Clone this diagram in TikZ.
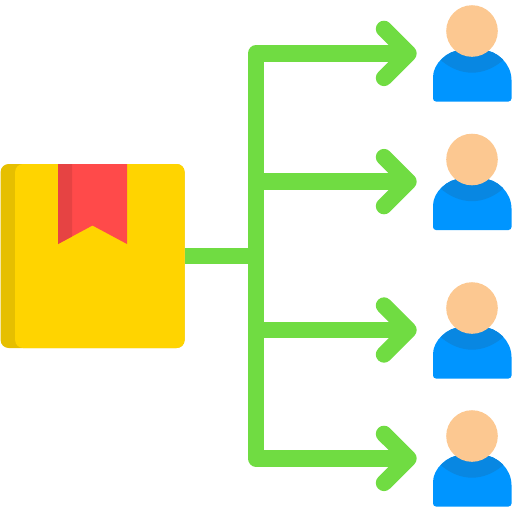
\documentclass[tikz,border=0pt]{standalone}
\usepackage{xcolor}
\usetikzlibrary{positioning,calc}
\definecolor{leaf}{HTML}{70DC42}
\definecolor{gold}{HTML}{FFD400}
\definecolor{darkgold}{HTML}{E6BF00}
\definecolor{ribbon}{HTML}{FF4A4A}
\definecolor{darkribbon}{HTML}{E64343}
\definecolor{skin}{HTML}{FCC891}
\definecolor{shirt}{HTML}{0095FF}
\definecolor{collar}{HTML}{0887E2}

\begin{document}
\begin{tikzpicture}[
    x=1pt, y=-1pt,
    parcel/.style={rectangle, rounded corners=8pt, inner sep=0pt, minimum height=184pt},
    link/.style={draw=leaf, line width=16.4pt, line join=round},
    barb/.style={link, line cap=round},
    head/.style={circle, fill=skin, inner sep=0pt, minimum size=51.6pt},
    person/.pic={
        \path[fill=shirt, rounded corners=3pt] (-39,70.5) -- (-39,49) [sharp corners] .. controls (-39,33) and (-25,19) .. (-10,19) -- (10,19) .. controls (25,19) and (39.5,33) .. (39.5,49) [rounded corners=3pt] -- (39.5,70.5) -- cycle;
        \begin{scope}
            \clip (-39,49) .. controls (-39,33) and (-25,19) .. (-10,19) -- (10,19) .. controls (25,19) and (39.5,33) .. (39.5,49) -- cycle;
            \fill[collar] (-33,15) -- (-33,27.5) .. controls (-23,37) and (-11,41.7) .. (0,41.7) .. controls (11,41.7) and (23,37) .. (33,27.5) -- (33,15) -- cycle;
        \end{scope}
        \node[head] (face) at (0,0) {};
    }
]
    \useasboundingbox (0,0) rectangle (512,512);

    % Junction and arrow ends
    \coordinate (hub) at (256,255.7);
    \coordinate (tip1) at (408.5,53.4);
    \coordinate (tip2) at (408.5,181.6);
    \coordinate (tip3) at (408.5,330);
    \coordinate (tip4) at (408.5,458.4);

    % Parcel
    \node[parcel, fill=darkgold, minimum width=184pt] (back) at (92.6,256) {};
    \node[parcel, fill=gold, minimum width=169.5pt, anchor=east] (front) at (back.east) {};
    \fill[ribbon] (58,164) -- (127,164) -- (127,244) -- (92.5,225.5) -- (58,244) -- cycle;
    \fill[darkribbon] (58,164) -- (72,164) -- (72,236.5) -- (58,244) -- cycle;

    % Arrows: trunk and branches
    \draw[link] (back.east |- hub) -- (hub);
    \draw[link] (tip1) -| (hub) |- (tip4);
    \draw[link] (tip2 -| hub) -- (tip2);
    \draw[link] (tip3 -| hub) -- (tip3);

    % Arrow barbs
    \draw[barb] ($(tip1)+(-24.5,-24.5)$) -- (tip1) -- ($(tip1)+(-24.5,24.5)$);
    \draw[barb] ($(tip2)+(-24.5,-24.5)$) -- (tip2) -- ($(tip2)+(-24.5,24.5)$);
    \draw[barb] ($(tip3)+(-24.5,-24.5)$) -- (tip3) -- ($(tip3)+(-24.5,24.5)$);
    \draw[barb] ($(tip4)+(-24.5,-24.5)$) -- (tip4) -- ($(tip4)+(-24.5,24.5)$);

    % People
    \pic (user1) at (472,31) {person};
    \pic (user2) at (472,159.5) {person};
    \pic (user3) at (472,308) {person};
    \pic (user4) at (472,436) {person};
\end{tikzpicture}
\end{document}
